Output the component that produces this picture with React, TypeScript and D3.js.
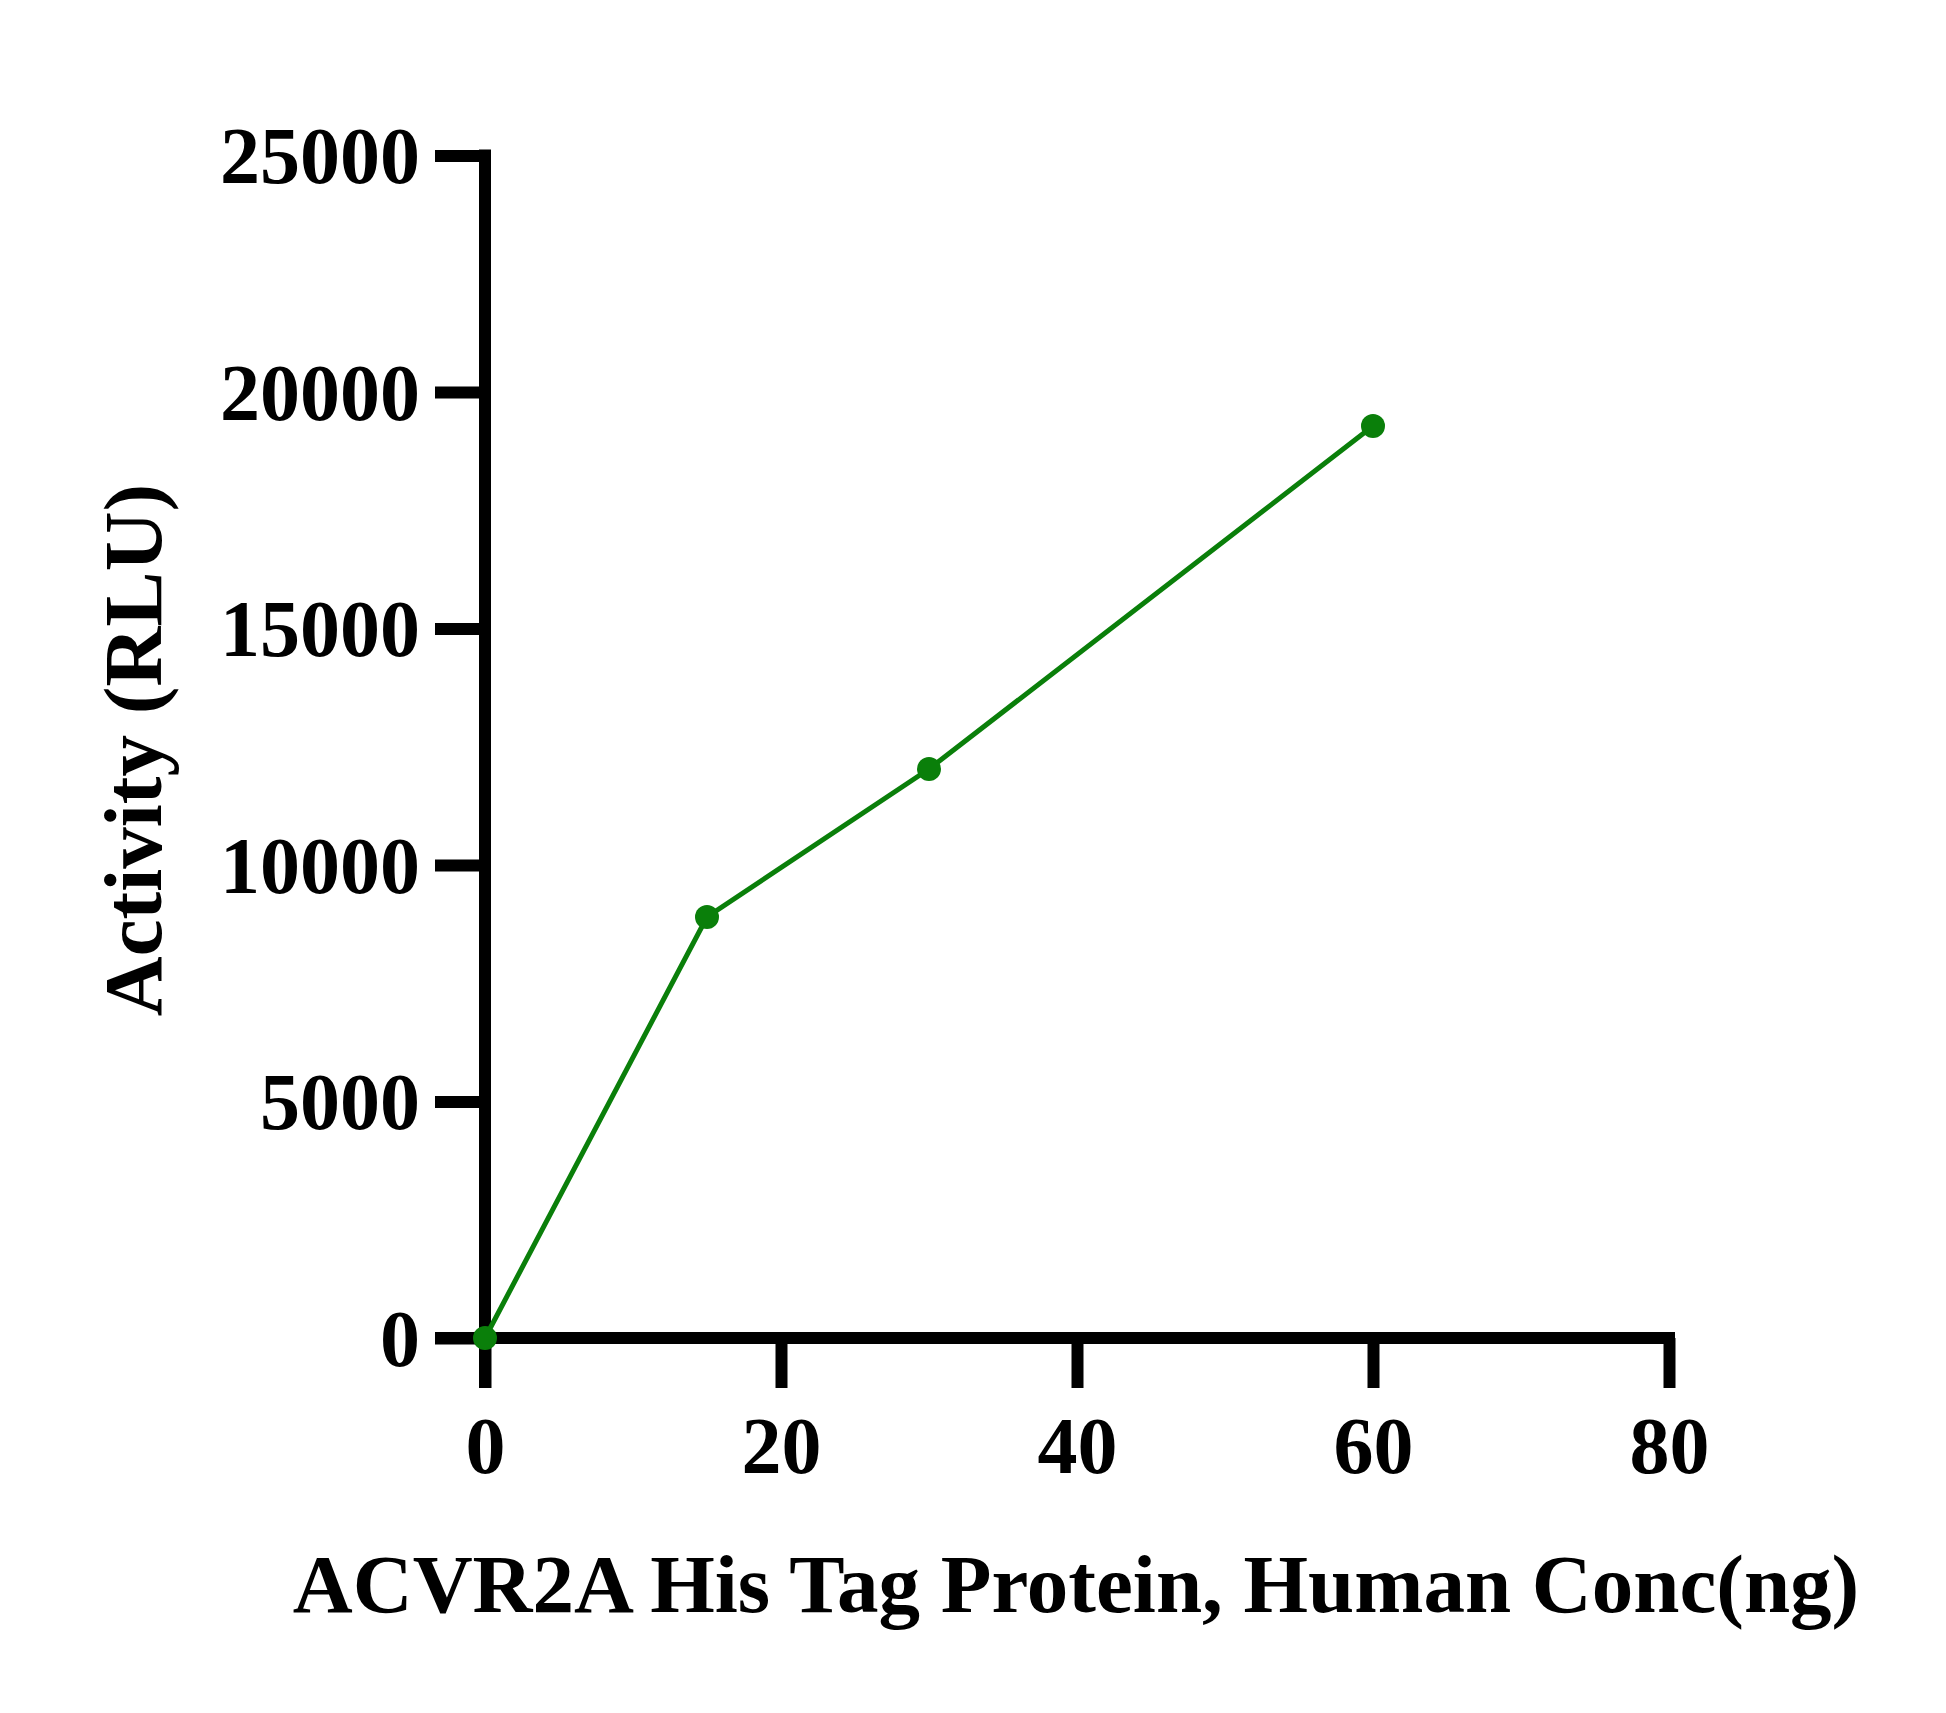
import * as d3 from "d3";
import { useEffect, useRef } from "react";

const concNg = [0, 15, 30, 60];
const activityRlu = [0, 8900, 12030, 19280];
const xTicks = [0, 20, 40, 60, 80];
const yTicks = [0, 5000, 10000, 15000, 20000, 25000];
const xTitle = "ACVR2A His Tag Protein, Human Conc(ng)";
const yTitle = "Activity (RLU)";

const W = 1946;
const H = 1713;
const FONT = "'Liberation Serif', 'Times New Roman', serif";
const GREEN = "#0a7f0a";

function App() {
  const ref = useRef<SVGSVGElement>(null);

  useEffect(() => {
    const svg = d3.select(ref.current);
    svg.selectAll("*").remove();

    const x = d3.scaleLinear().domain([0, 80]).range([485, 1669]);
    const y = d3.scaleLinear().domain([0, 25000]).range([1338, 155.5]);

    const g = svg.append("g").attr("font-family", FONT).attr("font-weight", "bold");

    // y axis
    const yAxis = d3
      .axisLeft(y)
      .tickValues(yTicks)
      .tickSize(50)
      .tickSizeOuter(0)
      .tickPadding(15)
      .tickFormat((d) => String(d));
    const ya = g.append("g").attr("transform", `translate(${x(0)},0)`).call(yAxis);
    ya.select(".domain").remove();
    ya.selectAll("line").attr("stroke", "#000").attr("stroke-width", 12);
    ya.selectAll("text")
      .attr("font-size", 80)
      .attr("font-family", FONT)
      .attr("font-weight", "bold")
      .attr("fill", "#000")
      .attr("dy", "0.34em");
    g.append("line")
      .attr("x1", x(0))
      .attr("x2", x(0))
      .attr("y1", y(25000) - 6)
      .attr("y2", y(0) + 50)
      .attr("stroke", "#000")
      .attr("stroke-width", 12);

    // x axis
    const xAxis = d3
      .axisBottom(x)
      .tickValues(xTicks)
      .tickSize(50)
      .tickSizeOuter(0)
      .tickPadding(28)
      .tickFormat((d) => String(d));
    const xa = g.append("g").attr("transform", `translate(0,${y(0)})`).call(xAxis);
    xa.select(".domain").remove();
    xa.selectAll("line").attr("stroke", "#000").attr("stroke-width", 12);
    xa.selectAll("text")
      .attr("font-size", 80)
      .attr("font-family", FONT)
      .attr("font-weight", "bold")
      .attr("fill", "#000")
      .attr("dy", "0.71em");
    g.append("line")
      .attr("x1", x(0) - 50)
      .attr("x2", x(80) + 6)
      .attr("y1", y(0))
      .attr("y2", y(0))
      .attr("stroke", "#000")
      .attr("stroke-width", 12);

    // data line
    const pts = concNg.map((c, i) => [c, activityRlu[i]] as [number, number]);
    const line = d3
      .line<[number, number]>()
      .x((d) => x(d[0]))
      .y((d) => y(d[1]));
    g.append("path")
      .attr("d", line(pts))
      .attr("fill", "none")
      .attr("stroke", GREEN)
      .attr("stroke-width", 5);
    g.selectAll("circle.pt")
      .data(pts)
      .join("circle")
      .attr("class", "pt")
      .attr("cx", (d) => x(d[0]))
      .attr("cy", (d) => y(d[1]))
      .attr("r", 12)
      .attr("fill", GREEN);

    // titles
    g.append("text")
      .attr("x", 1076)
      .attr("y", 1612)
      .attr("text-anchor", "middle")
      .attr("font-size", 83)
      .attr("fill", "#000")
      .text(xTitle);
    g.append("text")
      .attr("transform", `translate(161,750) rotate(-90)`)
      .attr("text-anchor", "middle")
      .attr("font-size", 83)
      .attr("fill", "#000")
      .text(yTitle);
  });

  return (
    <svg
      ref={ref}
      width={W}
      height={H}
      viewBox={`0 0 ${W} ${H}`}
      style={{ position: "absolute", left: 0, top: 0, background: "#fff" }}
    />
  );
}

export default App;
